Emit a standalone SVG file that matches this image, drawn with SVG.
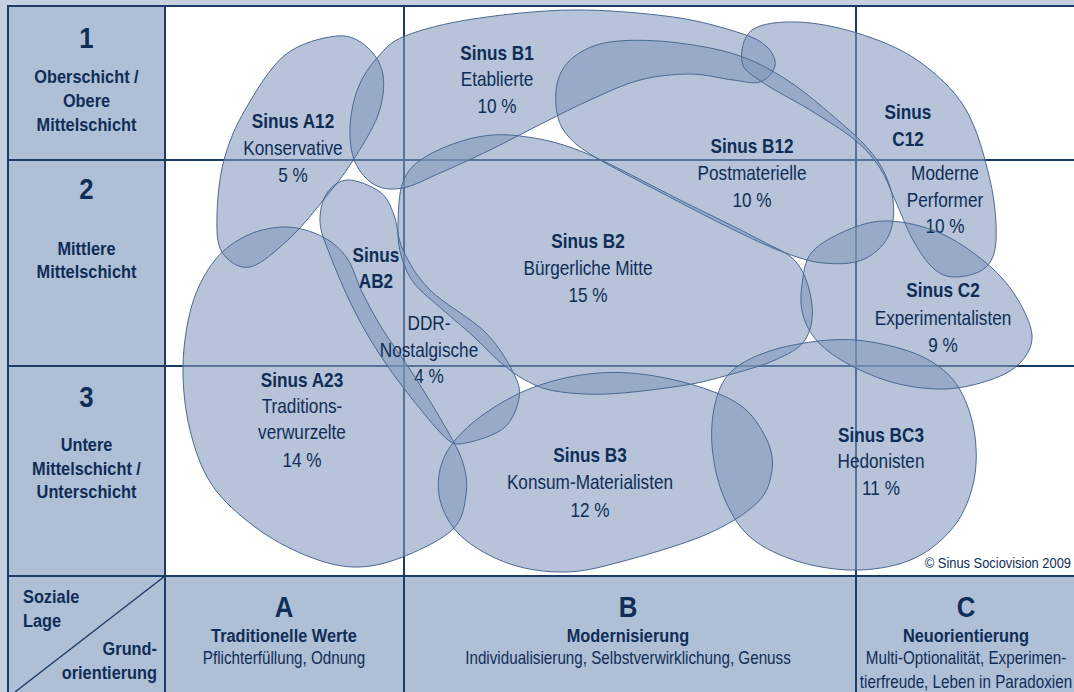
<svg xmlns="http://www.w3.org/2000/svg" width="1074" height="692" viewBox="0 0 1074 692">
<defs>
<style>
.bg{fill:#c5d0e1}
.panel{fill:#ffffff}
.head{fill:#afbfd6}
#grid line{stroke:#1c3b66;stroke-width:2}
#grid .diag{stroke-width:1.4}
.blob{fill:#8399bd;fill-opacity:0.59;stroke:none}
.outline{fill:none;stroke:#4a6991;stroke-width:1}
text{font-family:"Liberation Sans",Arial,sans-serif;fill:#0f2d57;text-anchor:middle}
.tb{font-weight:bold;font-size:20px}
.tr{font-size:20px}
.hb{font-weight:bold;font-size:19px}
.hr{font-size:17.7px}
.big{font-weight:bold;font-size:30px}
.copy{font-size:15px;text-anchor:end}
.start{text-anchor:start}
.end{text-anchor:end}
</style>
<path id="p-a12" d="M337,36 C350.7,34.7 359.3,40.5 367,47 C374.7,53.5 381.2,63.7 383,75 C384.8,86.3 383.2,100.5 378,115 C372.8,129.5 360.8,148.2 352,162 C343.2,175.8 335.3,185.3 325,198 C314.7,210.7 302.5,226.5 290,238 C277.5,249.5 261.3,264.7 250,267 C238.7,269.3 227.5,260.7 222,252 C216.5,243.3 216.7,230.3 217,215 C217.3,199.7 219.3,177.5 224,160 C228.7,142.5 234.8,127.5 245,110 C255.2,92.5 269.7,67.3 285,55 C300.3,42.7 323.3,37.3 337,36 Z"/>
<path id="p-b1" d="M350,127 C350.5,114.7 353.5,99.5 358,88 C362.5,76.5 369.2,66.7 377,58 C384.8,49.3 389,42.5 405,36 C421,29.5 445,23.3 473,19 C501,14.7 539.7,10.3 573,10 C606.3,9.7 645.2,13.2 673,17 C700.8,20.8 724.3,28 740,33 C755.7,38 761.2,41.5 767,47 C772.8,52.5 776.2,60.2 775,66 C773.8,71.8 767,79.7 760,82 C753,84.3 744.7,81.3 733,80 C721.3,78.7 705.5,74 690,74 C674.5,74 656.7,75.7 640,80 C623.3,84.3 605.8,93 590,100 C574.2,107 561.7,113.7 545,122 C528.3,130.3 507.5,141.5 490,150 C472.5,158.5 454.5,166.7 440,173 C425.5,179.3 413.8,186 403,188 C392.2,190 383,189.3 375,185 C367,180.7 359.2,171.7 355,162 C350.8,152.3 349.5,139.3 350,127 Z"/>
<path id="p-b12" d="M557,113 C555.3,103.7 555,89.5 558,80 C561,70.5 566.3,62.3 575,56 C583.7,49.7 594.2,44.3 610,42 C625.8,39.7 648.3,39.7 670,42 C691.7,44.3 720,48.7 740,56 C760,63.3 773.3,71 790,82 C806.7,93 825.5,109.7 840,122 C854.5,134.3 868.2,147 877,160 C885.8,173 891.2,187.2 893,200 C894.8,212.8 893.2,227 888,237 C882.8,247 872.8,255.7 862,260 C851.2,264.3 836.2,264.3 823,263 C809.8,261.7 798.5,257.8 783,252 C767.5,246.2 750.5,238 730,228 C709.5,218 682.5,203.8 660,192 C637.5,180.2 610.3,166.3 595,157 C579.7,147.7 574.3,143.3 568,136 C561.7,128.7 558.7,122.3 557,113 Z"/>
<path id="p-c12" d="M742,62 C740.3,53.3 742.8,36.7 752,30 C761.2,23.3 779.5,21.5 797,22 C814.5,22.5 837,26.7 857,33 C877,39.3 899,47.5 917,60 C935,72.5 952.8,88 965,108 C977.2,128 984.8,158 990,180 C995.2,202 996.8,225.3 996,240 C995.2,254.7 991.8,261.8 985,268 C978.2,274.2 963.7,277 955,277 C946.3,277 940,274.2 933,268 C926,261.8 919.3,251.3 913,240 C906.7,228.7 900.5,212 895,200 C889.5,188 886.7,178 880,168 C873.3,158 866.7,149.7 855,140 C843.3,130.3 825.5,119.7 810,110 C794.5,100.3 773.3,90 762,82 C750.7,74 743.7,70.7 742,62 Z"/>
<path id="p-c2" d="M802,285 C803.5,274.5 804,261.3 812,252 C820,242.7 837,234.2 850,229 C863,223.8 875,220.3 890,221 C905,221.7 924.2,226.2 940,233 C955.8,239.8 972.5,251.7 985,262 C997.5,272.3 1007.2,282.8 1015,295 C1022.8,307.2 1031.2,323.7 1032,335 C1032.8,346.3 1027,355.5 1020,363 C1013,370.5 1002.5,375.7 990,380 C977.5,384.3 960.8,388.5 945,389 C929.2,389.5 910.8,387 895,383 C879.2,379 862.8,371.8 850,365 C837.2,358.2 825.8,350.3 818,342 C810.2,333.7 805.7,324.5 803,315 C800.3,305.5 800.5,295.5 802,285 Z"/>
<path id="p-a23" d="M287,227 C299.5,227.3 313,231.8 323,237 C333,242.2 340.5,248.8 347,258 C353.5,267.2 356,280 362,292 C368,304 374.5,316.3 383,330 C391.5,343.7 403.5,359.3 413,374 C422.5,388.7 431.8,403.7 440,418 C448.2,432.3 457.7,447.2 462,460 C466.3,472.8 467.7,483.3 466,495 C464.3,506.7 463,519.5 452,530 C441,540.5 416.5,551.8 400,558 C383.5,564.2 368.8,567.5 353,567 C337.2,566.5 321.3,561.7 305,555 C288.7,548.3 270.5,538.7 255,527 C239.5,515.3 222.8,501.2 212,485 C201.2,468.8 194.8,449.7 190,430 C185.2,410.3 182.7,387.8 183,367 C183.3,346.2 186.7,322.8 192,305 C197.3,287.2 205.7,271.7 215,260 C224.3,248.3 236,240.5 248,235 C260,229.5 274.5,226.7 287,227 Z"/>
<path id="p-ab2" d="M348,180 C356.8,179.8 372.3,186.2 380,192 C387.7,197.8 390.2,205.3 394,215 C397.8,224.7 397,237.5 403,250 C409,262.5 416.3,276.3 430,290 C443.7,303.7 471.2,318.3 485,332 C498.8,345.7 507.3,361 513,372 C518.7,383 520.5,388.7 519,398 C517.5,407.3 512.8,420.5 504,428 C495.2,435.5 475.3,441 466,443 C456.7,445 454,444 448,440 C439.2,432.8 424.3,414.2 413,400 C401.7,385.8 390,370.3 380,355 C370,339.7 361.3,324.7 353,308 C344.7,291.3 335.5,269.3 330,255 C324.5,240.7 320.5,232.3 320,222 C319.5,211.7 322.3,200 327,193 C331.7,186 339.2,180.2 348,180 Z"/>
<path id="p-b2" d="M398,225 C398.3,212.8 398.5,193.3 403,182 C407.5,170.7 413.3,164.3 425,157 C436.7,149.7 457.2,141.5 473,138 C488.8,134.5 501.7,133.7 520,136 C538.3,138.3 556.3,141.3 583,152 C609.7,162.7 650.5,185.3 680,200 C709.5,214.7 740.5,229.5 760,240 C779.5,250.5 788.3,252.2 797,263 C805.7,273.8 810.7,292.2 812,305 C813.3,317.8 811.2,330.8 805,340 C798.8,349.2 788.3,354 775,360 C761.7,366 740.8,371.7 725,376 C709.2,380.3 699.7,383 680,386 C660.3,389 627.8,393.2 607,394 C586.2,394.8 568.7,393.3 555,391 C541.3,388.7 534.2,384.8 525,380 C515.8,375.2 508.7,369.3 500,362 C491.3,354.7 482.5,344.7 473,336 C463.5,327.3 452.8,318.8 443,310 C433.2,301.2 421,292.2 414,283 C407,273.8 403.7,264.7 401,255 C398.3,245.3 397.7,237.2 398,225 Z"/>
<path id="p-b3" d="M470,425 C482.8,413.8 502.5,401.2 520,393 C537.5,384.8 556.7,379.3 575,376 C593.3,372.7 610.8,371.7 630,373 C649.2,374.3 671.7,378.7 690,384 C708.3,389.3 727.3,396 740,405 C752.7,414 760.7,427.2 766,438 C771.3,448.8 773.5,459.2 772,470 C770.5,480.8 768.2,492.2 757,503 C745.8,513.8 727.8,525.2 705,535 C682.2,544.8 643.3,555.8 620,562 C596.7,568.2 583.3,571.7 565,572 C546.7,572.3 527.2,569.8 510,564 C492.8,558.2 473.7,547.7 462,537 C450.3,526.3 443.2,512.8 440,500 C436.8,487.2 438,472.5 443,460 C448,447.5 457.2,436.2 470,425 Z"/>
<path id="p-bc3" d="M733,370 C742.5,361.7 756.8,355 773,350 C789.2,345 812.7,341.2 830,340 C847.3,338.8 861.2,340 877,343 C892.8,346 911.7,351 925,358 C938.3,365 948.8,373 957,385 C965.2,397 971.2,414.2 974,430 C976.8,445.8 977.2,464.2 974,480 C970.8,495.8 964.8,512 955,525 C945.2,538 930.8,550.5 915,558 C899.2,565.5 879.2,569.3 860,570 C840.8,570.7 818.3,567.5 800,562 C781.7,556.5 762.8,548.2 750,537 C737.2,525.8 729.3,510.3 723,495 C716.7,479.7 713.2,460.8 712,445 C710.8,429.2 712.5,412.5 716,400 C719.5,387.5 723.5,378.3 733,370 Z"/>
</defs>

<rect class="bg" x="0" y="0" width="1074" height="692"/>
<rect class="panel" x="165" y="6" width="909" height="570"/>
<rect class="head" x="8" y="6" width="157" height="686"/>
<rect class="head" x="165" y="576" width="909" height="116"/>

<g id="grid">
<line x1="7" y1="6" x2="1074" y2="6"/>
<line x1="8" y1="6" x2="8" y2="692"/>
<line x1="165" y1="6" x2="165" y2="692"/>
<line x1="404" y1="6" x2="404" y2="692"/>
<line x1="856" y1="6" x2="856" y2="692"/>
<line x1="8" y1="160" x2="1074" y2="160"/>
<line x1="8" y1="366" x2="1074" y2="366"/>
<line x1="8" y1="576" x2="1074" y2="576"/>
<line class="diag" x1="165" y1="576" x2="15" y2="692"/>
</g>

<g id="row-labels">
<g id="row-1" transform="scale(0.86 1)">
<text class="big" x="100.58" y="48">1</text>
<text class="hb" x="100.58" y="83">Oberschicht /</text>
<text class="hb" x="100.58" y="107">Obere</text>
<text class="hb" x="100.58" y="131">Mittelschicht</text>
</g>
<g id="row-2" transform="scale(0.86 1)">
<text class="big" x="100.58" y="199">2</text>
<text class="hb" x="100.58" y="255">Mittlere</text>
<text class="hb" x="100.58" y="278">Mittelschicht</text>
</g>
<g id="row-3" transform="scale(0.86 1)">
<text class="big" x="100.58" y="407">3</text>
<text class="hb" x="100.58" y="451">Untere</text>
<text class="hb" x="100.58" y="475">Mittelschicht /</text>
<text class="hb" x="100.58" y="498">Unterschicht</text>
</g>
<g id="corner" transform="scale(0.86 1)">
<text class="hb start" x="26.74" y="603">Soziale</text>
<text class="hb start" x="26.74" y="627">Lage</text>
<text class="hb end" x="182.56" y="655">Grund-</text>
<text class="hb end" x="182.56" y="679">orientierung</text>
</g>
</g>

<g id="column-labels">
<g id="col-a" transform="scale(0.86 1)">
<text class="big" x="330.23" y="617">A</text>
<text class="hb" x="330.23" y="642">Traditionelle Werte</text>
<text class="hr" x="330.23" y="664">Pflichterfüllung, Odnung</text>
</g>
<g id="col-b" transform="scale(0.86 1)">
<text class="big" x="730.23" y="617">B</text>
<text class="hb" x="730.23" y="642">Modernisierung</text>
<text class="hr" x="730.23" y="664">Individualisierung, Selbstverwirklichung, Genuss</text>
</g>
<g id="col-c" transform="scale(0.86 1)">
<text class="big" x="1123.26" y="617">C</text>
<text class="hb" x="1123.26" y="642">Neuorientierung</text>
<text class="hr" x="1123.26" y="664">Multi-Optionalität, Experimen-</text>
<text class="hr" x="1123.26" y="688">tierfreude, Leben in Paradoxien</text>
</g>
</g>

<g id="nodes">
<g id="sinus-a12">
<use href="#p-a12" class="blob"/>
<g transform="scale(0.86 1)">
<text class="tb" x="340.7" y="128">Sinus A12</text>
<text class="tr" x="340.7" y="155">Konservative</text>
<text class="tr" x="340.7" y="182">5 %</text>
</g>
</g>
<g id="sinus-b1">
<use href="#p-b1" class="blob"/>
<g transform="scale(0.86 1)">
<text class="tb" x="577.91" y="60">Sinus B1</text>
<text class="tr" x="577.91" y="86">Etablierte</text>
<text class="tr" x="577.91" y="113">10 %</text>
</g>
</g>
<g id="sinus-b12">
<use href="#p-b12" class="blob"/>
<g transform="scale(0.86 1)">
<text class="tb" x="874.42" y="153">Sinus B12</text>
<text class="tr" x="874.42" y="180">Postmaterielle</text>
<text class="tr" x="874.42" y="207">10 %</text>
</g>
</g>
<g id="sinus-c2">
<use href="#p-c2" class="blob"/>
<g transform="scale(0.86 1)">
<text class="tb" x="1096.51" y="297">Sinus C2</text>
<text class="tr" x="1096.51" y="325">Experimentalisten</text>
<text class="tr" x="1096.51" y="352">9 %</text>
</g>
</g>
<g id="sinus-c12">
<use href="#p-c12" class="blob"/>
<g transform="scale(0.86 1)">
<text class="tb" x="1055.81" y="119">Sinus</text>
<text class="tb" x="1055.81" y="146">C12</text>
<text class="tr" x="1098.84" y="180">Moderne</text>
<text class="tr" x="1098.84" y="207">Performer</text>
<text class="tr" x="1098.84" y="233">10 %</text>
</g>
</g>
<g id="sinus-a23">
<use href="#p-a23" class="blob"/>
<g transform="scale(0.86 1)">
<text class="tb" x="351.16" y="387">Sinus A23</text>
<text class="tr" x="351.16" y="413">Traditions-</text>
<text class="tr" x="351.16" y="439">verwurzelte</text>
<text class="tr" x="351.16" y="467">14 %</text>
</g>
</g>
<g id="sinus-b2">
<use href="#p-b2" class="blob"/>
<g transform="scale(0.86 1)">
<text class="tb" x="683.72" y="248">Sinus B2</text>
<text class="tr" x="683.72" y="275">Bürgerliche Mitte</text>
<text class="tr" x="683.72" y="302">15 %</text>
</g>
</g>
<g id="sinus-ab2">
<use href="#p-ab2" class="blob"/>
<g transform="scale(0.86 1)">
<text class="tb" x="437.21" y="262">Sinus</text>
<text class="tb" x="437.21" y="288">AB2</text>
<text class="tr" x="498.84" y="330">DDR-</text>
<text class="tr" x="498.84" y="357">Nostalgische</text>
<text class="tr" x="498.84" y="383">4 %</text>
</g>
</g>
<g id="sinus-b3">
<use href="#p-b3" class="blob"/>
<g transform="scale(0.86 1)">
<text class="tb" x="686.05" y="462">Sinus B3</text>
<text class="tr" x="686.05" y="489">Konsum-Materialisten</text>
<text class="tr" x="686.05" y="517">12 %</text>
</g>
</g>
<g id="sinus-bc3">
<use href="#p-bc3" class="blob"/>
<g transform="scale(0.86 1)">
<text class="tb" x="1024.42" y="442">Sinus BC3</text>
<text class="tr" x="1024.42" y="468">Hedonisten</text>
<text class="tr" x="1024.42" y="495">11 %</text>
</g>
</g>
</g>

<g id="outlines">
<use href="#p-a12" class="outline"/>
<use href="#p-b1" class="outline"/>
<use href="#p-b12" class="outline"/>
<use href="#p-c2" class="outline"/>
<use href="#p-c12" class="outline"/>
<use href="#p-a23" class="outline"/>
<use href="#p-b2" class="outline"/>
<use href="#p-ab2" class="outline"/>
<use href="#p-b3" class="outline"/>
<use href="#p-bc3" class="outline"/>
</g>

<g id="credit" transform="scale(0.86 1)">
<text class="copy" x="1245.35" y="568">© Sinus Sociovision 2009</text>
</g>
</svg>
